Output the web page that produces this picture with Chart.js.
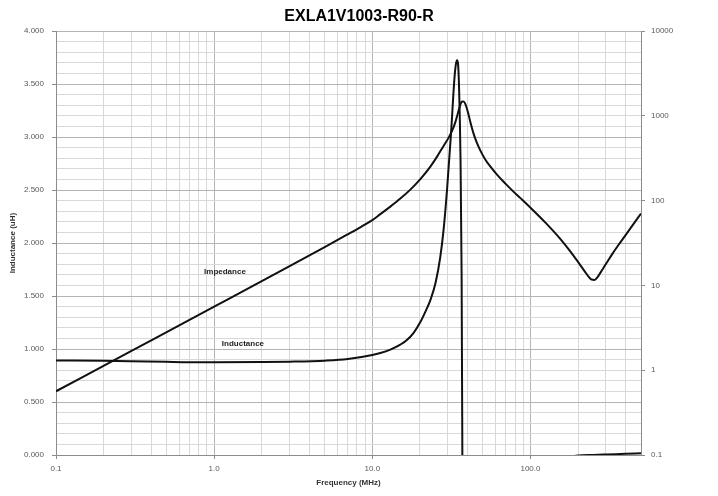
<!DOCTYPE html>
<html><head><meta charset="utf-8">
<script src="https://cdn.jsdelivr.net/npm/chart.js@4/dist/chart.umd.min.js"></script>
<style>html,body{margin:0;padding:0;background:#fff}</style>
</head><body>
<canvas id="c" width="718" height="496"></canvas>
<script>
const chartTitle = 'EXLA1V1003-R90-R';
const xAxisTitle = 'Frequency (MHz)';
const yLeftTitle = 'Inductance (uH)';
const freqDecades = [0.1, 1, 10, 100];
const xTickLabels = ['0.1', '1.0', '10.0', '100.0'];
const rightTickValues = [0.1, 1, 10, 100, 1000, 10000];
const rightTickLabels = ['0.1', '1', '10', '100', '1000', '10000'];
const seriesNames = ['Inductance', 'Impedance'];

const inductanceFreq = [0.1, 0.2, 0.3, 0.5, 0.7, 1, 2, 3, 5, 7, 10, 11.24, 13.0, 15.04, 16.4, 18.2, 20.13, 21.6, 23.29, 25.1, 26.9, 28.3, 29.67, 31.47, 33.0, 33.7, 34.3, 34.8, 35.4, 36.1, 36.7, 37.1, 37.5, 38, 40, 50, 70, 100, 150, 200, 250, 300, 400, 500];
const inductanceValues = [0.893, 0.889, 0.885, 0.879, 0.876, 0.876, 0.878, 0.881, 0.89, 0.905, 0.943, 0.962, 0.995, 1.042, 1.08, 1.151, 1.255, 1.349, 1.462, 1.623, 1.868, 2.142, 2.50, 3.038, 3.538, 3.679, 3.726, 3.698, 3.443, 2.814, 1.717, 0.0, -2.0, -4.0, -2.5, -0.9, -0.35, -0.15, -0.04, -0.005, 0.001, 0.005, 0.011, 0.016];

const impedanceFreq = [0.1, 0.3, 1, 3, 5, 7, 8.5, 10, 11.24, 13.0, 15.04, 17.4, 20.13, 23.29, 25.79, 28.15, 30.27, 32.08, 33.51, 34.76, 35.79, 36.58, 37.39, 37.94, 38.78, 39.93, 41.72, 43.58, 45.52, 48.25, 51.9, 55.83, 61.82, 69.48, 76.91, 86.45, 100, 124.4, 154.8, 179.1, 201.3, 219.7, 232.9, 243.3, 254.2, 265.6, 277.3, 298.4, 330.4, 371.2, 429.5, 500];
const impedanceValues = [0.565, 1.69, 5.62, 16.9, 28.4, 40.2, 49.2, 59.0, 69.5, 85.2, 105.9, 135.2, 179.8, 252.5, 335.7, 440.4, 547.5, 680, 845, 1079, 1305, 1455, 1480, 1475, 1377, 1170, 845, 627, 498, 390, 305, 252.5, 200.4, 159.1, 131.6, 107.3, 82.9, 55.2, 35.3, 25.1, 18.62, 14.79, 12.74, 11.74, 11.64, 12.57, 14.19, 17.64, 23.78, 32.5, 47.5, 70.5];

// label anchors in data units: [freq (MHz), inductance-axis value]
const seriesLabelAnchors = [[1.52, 1.047], [1.17, 1.726]];

const FONT = '"Liberation Sans", Arial, sans-serif';
const GRID_MAJOR = '#b4b4b4';
const GRID_MINOR = '#d9d9d9';
const AXIS_COL = '#8c8c8c';
const TXT = '#595959';

const xGridValues = [];
freqDecades.forEach(d => { for (let m = 1; m <= 9; m++) { const v = parseFloat((m * d).toPrecision(6)); if (v <= 500.0001) xGridValues.push(v); } });
const isDecade = v => freqDecades.some(d => Math.abs(v - d) / d < 1e-6);
const yLGridValues = [];
for (let i = 0; i <= 40; i++) yLGridValues.push(i / 10);
const isHalf = v => Math.abs(v * 2 - Math.round(v * 2)) < 1e-6;

const seriesText = {
  id: 'seriesText',
  afterDatasetsDraw(chart) {
    const c = chart.ctx, xs = chart.scales.x, ys = chart.scales.yL;
    c.save();
    c.font = 'bold 8px ' + FONT;
    c.fillStyle = '#222';
    c.textAlign = 'center';
    c.textBaseline = 'middle';
    seriesNames.forEach((n, i) => {
      const a = seriesLabelAnchors[i];
      c.fillText(n, xs.getPixelForValue(a[0]), ys.getPixelForValue(a[1]));
    });
    c.restore();
  }
};

new Chart(document.getElementById('c'), {
  type: 'line',
  data: {
    datasets: [
      {
        label: seriesNames[0],
        data: inductanceFreq.map((f, i) => ({ x: f, y: inductanceValues[i] })),
        yAxisID: 'yL',
        borderColor: '#111',
        borderWidth: 2,
        pointRadius: 0,
        cubicInterpolationMode: 'monotone',
        fill: false
      },
      {
        label: seriesNames[1],
        data: impedanceFreq.map((f, i) => ({ x: f, y: impedanceValues[i] })),
        yAxisID: 'yR',
        borderColor: '#111',
        borderWidth: 2,
        pointRadius: 0,
        cubicInterpolationMode: 'monotone',
        fill: false
      }
    ]
  },
  options: {
    responsive: false,
    animation: false,
    devicePixelRatio: 1,
    layout: { padding: 0 },
    plugins: {
      legend: { display: false },
      tooltip: { enabled: false },
      title: {
        display: true,
        text: chartTitle,
        color: '#000',
        font: { family: FONT, size: 16, weight: 'bold' },
        padding: { top: 7, bottom: 5 }
      }
    },
    scales: {
      x: {
        type: 'logarithmic',
        min: 0.1, max: 500,
        afterBuildTicks: s => { s.ticks = xGridValues.map(v => ({ value: v })); },
        afterFit: s => { s.height = 41; },
        ticks: {
          autoSkip: false, maxRotation: 0, minRotation: 0,
          color: TXT, font: { family: FONT, size: 8 }, padding: 5,
          callback: (v) => { const i = freqDecades.findIndex(d => Math.abs(v - d) / d < 1e-6); return i >= 0 ? xTickLabels[i] : ''; }
        },
        grid: {
          color: ctx => (ctx.tick && isDecade(ctx.tick.value)) ? GRID_MAJOR : GRID_MINOR,
          tickColor: ctx => (ctx.tick && isDecade(ctx.tick.value)) ? AXIS_COL : 'rgba(0,0,0,0)',
          tickLength: 4, lineWidth: 1
        },
        border: { color: AXIS_COL },
        title: { display: true, text: xAxisTitle, color: '#333', font: { family: FONT, size: 8, weight: 'bold' }, padding: { top: 4, bottom: 8 } }
      },
      yL: {
        type: 'linear', position: 'left',
        min: 0, max: 4,
        afterBuildTicks: s => { s.ticks = yLGridValues.map(v => ({ value: v })); },
        afterFit: s => { s.width = 56; },
        ticks: {
          autoSkip: false, color: TXT, font: { family: FONT, size: 8 }, padding: 8,
          callback: v => isHalf(v) ? v.toFixed(3) : ''
        },
        grid: {
          color: ctx => (ctx.tick && isHalf(ctx.tick.value)) ? GRID_MAJOR : GRID_MINOR,
          tickColor: ctx => (ctx.tick && isHalf(ctx.tick.value)) ? AXIS_COL : 'rgba(0,0,0,0)',
          tickLength: 4
        },
        border: { color: AXIS_COL },
        title: { display: true, text: yLeftTitle, color: '#333', font: { family: FONT, size: 8, weight: 'bold' }, padding: { top: 8, bottom: 2 } }
      },
      yR: {
        type: 'logarithmic', position: 'right',
        min: 0.1, max: 10000,
        afterBuildTicks: s => { s.ticks = rightTickValues.map(v => ({ value: v })); },
        afterFit: s => { s.width = 77; },
        ticks: {
          autoSkip: false, color: TXT, font: { family: FONT, size: 8 }, padding: 6,
          callback: (v, i) => rightTickLabels[i]
        },
        grid: { drawOnChartArea: false, color: AXIS_COL, tickLength: 4 },
        border: { color: AXIS_COL }
      }
    }
  },
  plugins: [seriesText]
});
</script>
</body></html>
